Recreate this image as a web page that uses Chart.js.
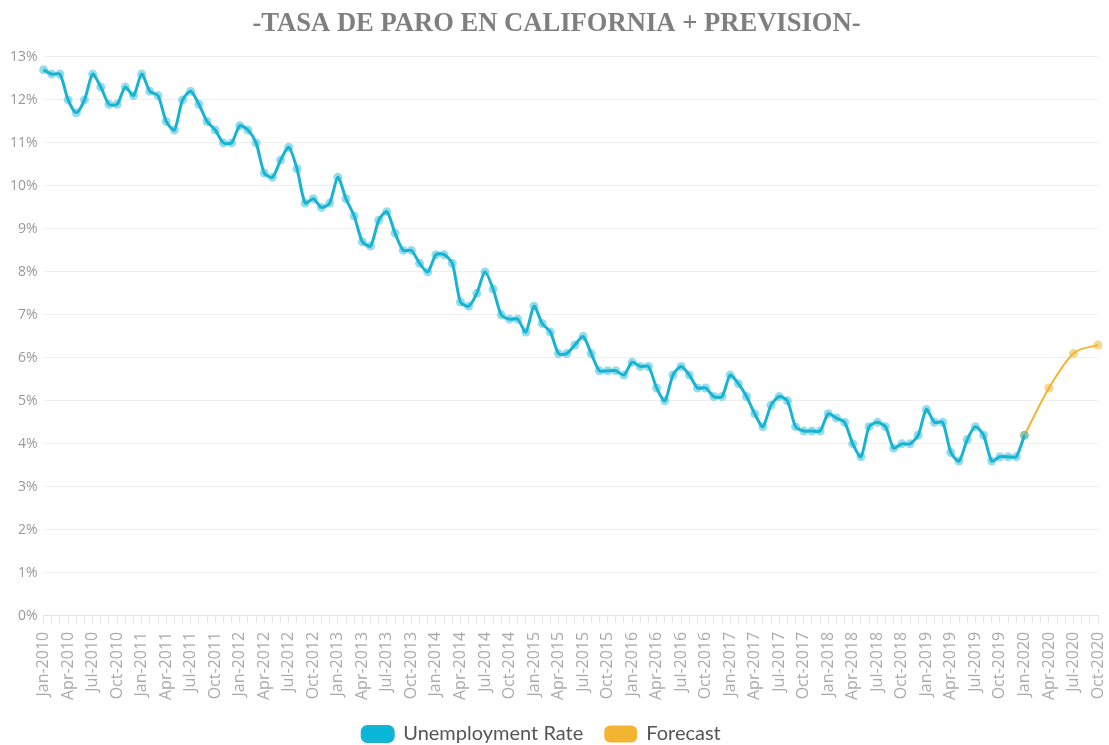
<!DOCTYPE html>
<html>
<head>
<meta charset="utf-8">
<script src="https://cdn.jsdelivr.net/npm/chart.js@4/dist/chart.umd.min.js"></script>
<style>
  html, body { margin: 0; padding: 0; background: #fff; overflow: hidden; }
  #wrap { width: 1109px; height: 754px; position: relative; }
</style>
</head>
<body>
<div id="wrap"><canvas id="chart"></canvas></div>
<script>
const monthNames = ['Jan', 'Feb', 'Mar', 'Apr', 'May', 'Jun', 'Jul', 'Aug', 'Sep', 'Oct', 'Nov', 'Dec'];
const years = [2010, 2011, 2012, 2013, 2014, 2015, 2016, 2017, 2018, 2019, 2020];
const lastMonth = 'Oct-2020';

// tasa de paro mensual, Jan-2010 .. Jan-2020
const unemployment = [
    12.7, 12.6, 12.6, 12.0, 11.7, 12.0, 12.6, 12.3, 11.9, 11.9, 12.3, 12.1,
    12.6, 12.2, 12.1, 11.5, 11.3, 12.0, 12.2, 11.9, 11.5, 11.3, 11.0, 11.0,
    11.4, 11.3, 11.0, 10.3, 10.2, 10.6, 10.9, 10.4, 9.6, 9.7, 9.5, 9.6,
    10.2, 9.7, 9.3, 8.7, 8.6, 9.2, 9.4, 8.9, 8.5, 8.5, 8.2, 8.0,
    8.4, 8.4, 8.2, 7.3, 7.2, 7.5, 8.0, 7.6, 7.0, 6.9, 6.9, 6.6,
    7.2, 6.8, 6.6, 6.1, 6.1, 6.3, 6.5, 6.1, 5.7, 5.7, 5.7, 5.6,
    5.9, 5.8, 5.8, 5.3, 5.0, 5.6, 5.8, 5.6, 5.3, 5.3, 5.1, 5.1,
    5.6, 5.4, 5.1, 4.7, 4.4, 4.9, 5.1, 5.0, 4.4, 4.3, 4.3, 4.3,
    4.7, 4.6, 4.5, 4.0, 3.7, 4.4, 4.5, 4.4, 3.9, 4.0, 4.0, 4.2,
    4.8, 4.5, 4.5, 3.8, 3.6, 4.1, 4.4, 4.2, 3.6, 3.7, 3.7, 3.7,
    4.2
];

// prevision trimestral
const forecastMonths = ['Jan-2020', 'Apr-2020', 'Jul-2020', 'Oct-2020'];
const forecast = [4.2, 5.3, 6.1, 6.3];

const labels = [];
years.forEach(y => {
    monthNames.forEach(m => {
        if (labels.length && labels[labels.length - 1] === lastMonth) return;
        labels.push(`${m}-${y}`);
    });
});

const blue = '#17b3d3';
const orange = '#f3b531';

// la leyenda del original no esta centrada del todo
const shiftLegend = {
    id: 'shiftLegend',
    afterLayout(chart) {
        chart.legend.left -= 15;
        chart.legend.right -= 15;
    }
};

new Chart(document.getElementById('chart'), {
    type: 'line',
    data: {
        labels: labels,
        datasets: [
            {
                label: 'Unemployment Rate',
                data: unemployment,
                borderColor: blue,
                backgroundColor: '#08b6d8',
                borderWidth: 3,
                tension: 0.25,
                pointRadius: 4.5,
                pointBorderWidth: 0,
                pointBackgroundColor: 'rgba(23,179,211,0.45)'
            },
            {
                label: 'Forecast',
                data: forecastMonths.map((m, i) => ({ x: m, y: forecast[i] })),
                borderColor: orange,
                backgroundColor: orange,
                borderWidth: 2,
                cubicInterpolationMode: 'monotone',
                pointRadius: 4.5,
                pointBorderWidth: 0,
                pointBackgroundColor: 'rgba(243,181,49,0.55)'
            }
        ]
    },
    options: {
        responsive: true,
        maintainAspectRatio: false,
        animation: false,
        layout: { padding: { top: 8, right: 0, left: 4, bottom: 0 } },
        plugins: {
            title: {
                display: true,
                text: '-TASA DE PARO EN CALIFORNIA + PREVISION-',
                color: '#7f7f7f',
                font: { family: 'Liberation Serif', size: 26.6, weight: 'bold' },
                padding: { top: 0, bottom: 17 }
            },
            legend: {
                position: 'bottom',
                labels: {
                    color: '#555',
                    font: { family: 'Lato', size: 20 },
                    boxWidth: 31,
                    boxHeight: 15,
                    useBorderRadius: true,
                    borderRadius: 5,
                    padding: 22
                }
            },
            tooltip: { enabled: false }
        },
        scales: {
            x: {
                grid: { drawOnChartArea: false, drawTicks: true, tickLength: 7, color: '#e4e4e4' },
                border: { color: '#e4e4e4' },
                ticks: {
                    autoSkip: false,
                    maxRotation: 90,
                    minRotation: 90,
                    padding: 9,
                    color: '#aaa',
                    font: { family: 'Open Sans', size: 16 },
                    callback: function (v, i) { return i % 3 === 0 ? this.getLabelForValue(v) : ''; }
                },
                afterFit: s => {
                    s.paddingRight = 11;
                    s.height -= 7;
                }
            },
            y: {
                min: 0,
                max: 13,
                grid: { color: '#efefef', drawTicks: false },
                border: { display: false },
                ticks: {
                    stepSize: 1,
                    padding: 6,
                    color: '#999',
                    font: { family: 'Open Sans', size: 14 },
                    callback: v => v + '%'
                }
            }
        }
    },
    plugins: [shiftLegend]
});
</script>
</body>
</html>
